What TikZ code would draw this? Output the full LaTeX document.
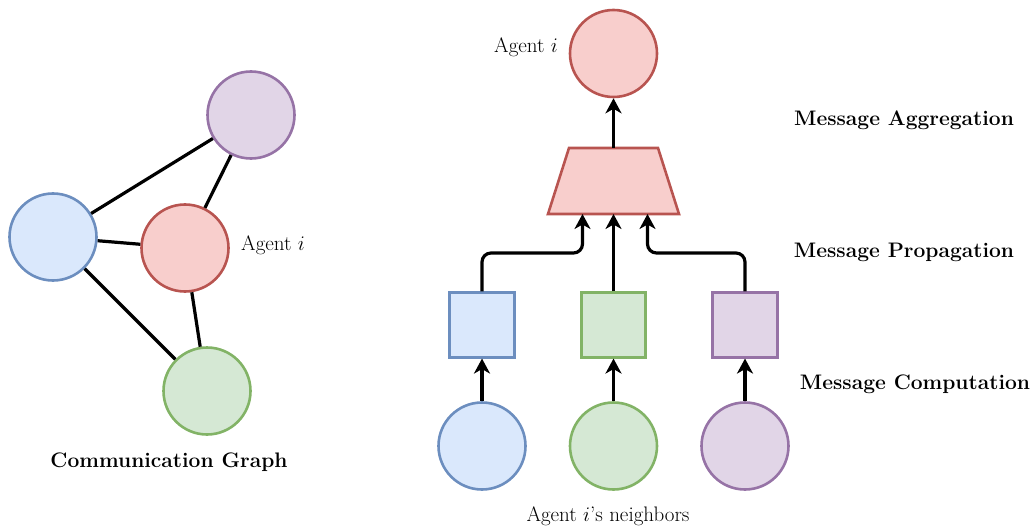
\documentclass[tikz,border=0pt]{standalone}
\usetikzlibrary{arrows.meta,calc}
\definecolor{bfill}{HTML}{DAE8FC}\definecolor{bdraw}{HTML}{6C8EBF}
\definecolor{gfill}{HTML}{D5E8D4}\definecolor{gdraw}{HTML}{82B366}
\definecolor{pfill}{HTML}{E1D5E7}\definecolor{pdraw}{HTML}{9673A6}
\definecolor{rfill}{HTML}{F8CECC}\definecolor{rdraw}{HTML}{B85450}
\begin{document}
\begin{tikzpicture}[x=1pt,y=-1pt,
  circ/.style={circle,minimum size=87pt,inner sep=0,line width=2.6pt},
  sq/.style={rectangle,minimum size=64.5pt,inner sep=0,line width=2.6pt},
  blu/.style={fill=bfill,draw=bdraw},
  grn/.style={fill=gfill,draw=gdraw},
  pur/.style={fill=pfill,draw=pdraw},
  red/.style={fill=rfill,draw=rdraw},
  edge/.style={line width=3.2pt},
  arr/.style={line width=3.2pt,-{Stealth[length=15pt,width=16pt,inset=4.5pt]}},
  lab/.style={font=\fontsize{21}{24}\selectfont,inner sep=0},
  blab/.style={font=\fontsize{21}{24}\selectfont\bfseries,inner sep=0}]
\useasboundingbox (0,0) rectangle (1034,532);
% left graph
\node[circ,pur] (lp) at (251,115) {};
\node[circ,blu] (lb) at (53,237) {};
\node[circ,red] (lr) at (185,248) {};
\node[circ,grn] (lg) at (207,391) {};
\node[lab,anchor=west] (lrl) at (241,245) {Agent $i$};
\node[blab] (cg) at (169,462) {Communication Graph};
\draw[edge] (lb) -- (lp);
\draw[edge] (lb) -- (lr);
\draw[edge] (lb) -- (lg);
\draw[edge] (lr) -- (lp);
\draw[edge] (lr) -- (lg);
% right
\node[circ,red] (ra) at (613.5,53.5) {};
\node[lab,anchor=east] (ral) at (558,47) {Agent $i$};
\coordinate (trn) at (613.5,148);
\coordinate (trs) at (613.5,214);
\draw[red,line width=2.6pt,line join=miter] (569,148) -- (658,148) -- (679,214) -- (548,214) -- cycle;
\node[sq,blu] (sb) at (482,325) {};
\node[sq,grn] (sg) at (613.5,325) {};
\node[sq,pur] (sp) at (745,325) {};
\node[circ,blu] (cb) at (482,446) {};
\node[circ,grn] (cgc) at (613.5,446) {};
\node[circ,pur] (cp) at (745,446) {};
\node[lab] (nb) at (608,516) {Agent $i$'s neighbors};
\node[blab] (ma) at (904,120) {Message Aggregation};
\node[blab] (mp) at (904,252) {Message Propagation};
\node[blab] (mc) at (915,384) {Message Computation};
\draw[arr] (trn) -- (ra.south);
\draw[arr] (sg.north) -- (trs);
\draw[arr,rounded corners=9pt] (sb.north) |- ($(trs)+(-31,39)$) -- ($(trs)+(-31,0)$);
\draw[arr,rounded corners=9pt] (sp.north) |- ($(trs)+(34,39)$) -- ($(trs)+(34,0)$);
\draw[arr] (cb.north) -- (sb.south);
\draw[arr] (cgc.north) -- (sg.south);
\draw[arr] (cp.north) -- (sp.south);
\end{tikzpicture}
\end{document}
